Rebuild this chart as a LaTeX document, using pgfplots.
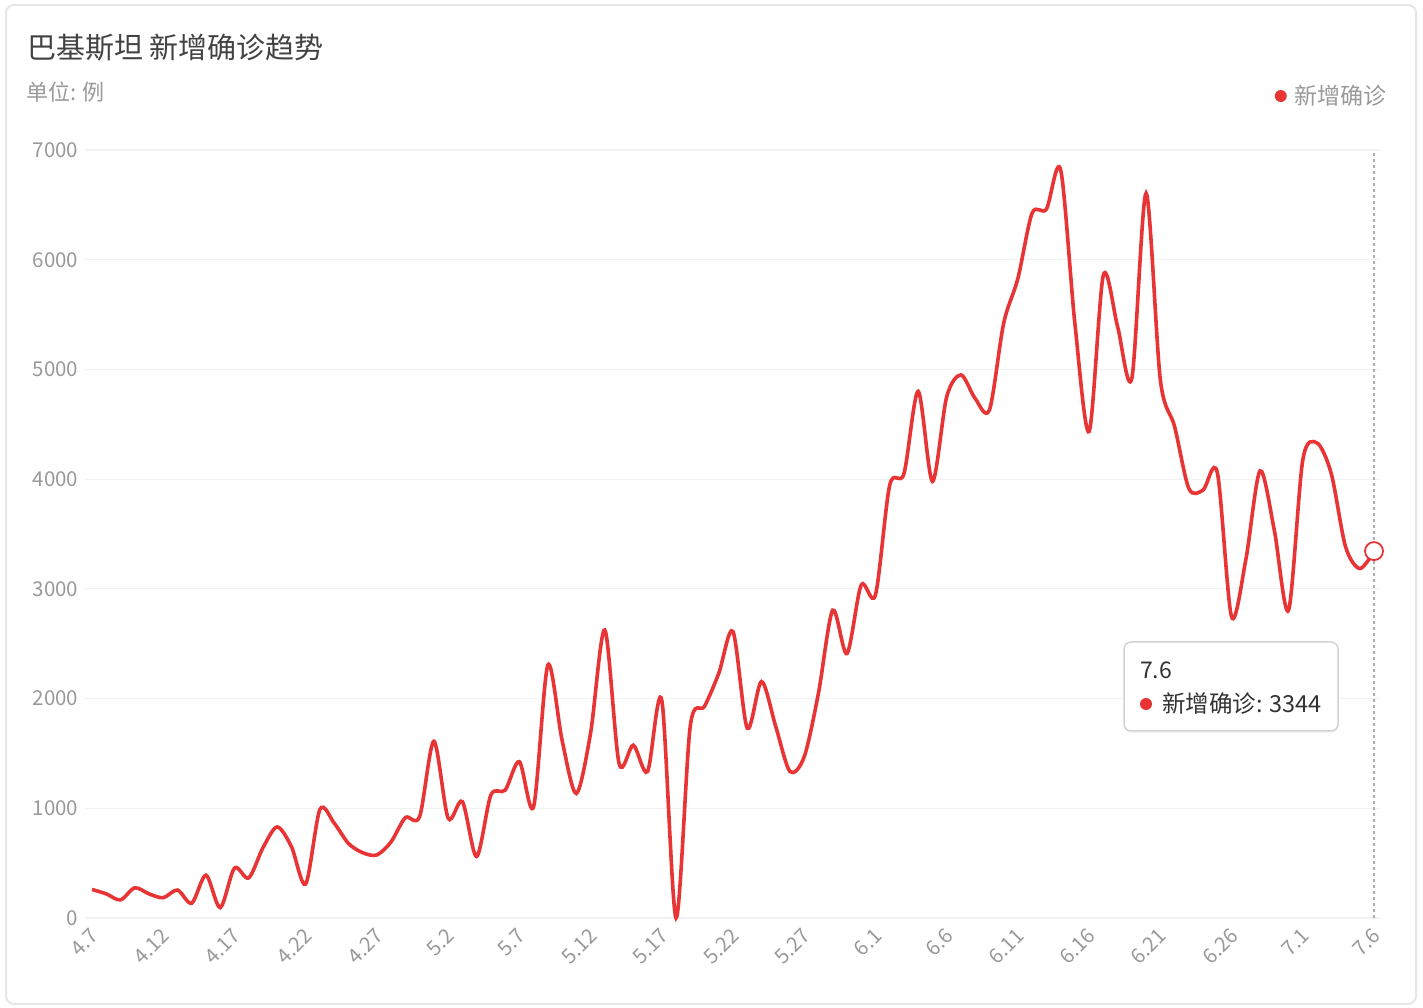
\documentclass[border=0pt]{standalone}
\usepackage{fontspec}
\setmainfont{Noto Sans CJK SC}
\usepackage{pgfplots}
\pgfplotsset{compat=1.18}
\usetikzlibrary{shadows}

\definecolor{linered}{RGB}{232,52,52}
\definecolor{tickgray}{RGB}{153,153,153}
\definecolor{gridgray}{RGB}{242,242,242}
\definecolor{titlegray}{RGB}{66,66,66}
\definecolor{cardgray}{RGB}{230,230,230}

% daily new cases, 4.7 (day 0) .. 7.6 (day 90)
\pgfplotstableread{
day cases
0 260
1 220
2 165
3 275
4 220
5 185
6 255
7 135
8 390
9 95
10 455
11 365
12 640
13 830
14 650
15 310
16 990
17 865
18 680
19 595
20 575
21 695
22 915
23 925
24 1610
25 910
26 1060
27 560
28 1120
29 1165
30 1425
31 1015
32 2305
33 1620
34 1135
35 1685
36 2625
37 1410
38 1575
39 1335
40 1985
41 0
42 1750
43 1930
44 2230
45 2610
46 1730
47 2155
48 1745
49 1335
50 1470
51 2050
52 2805
53 2410
54 3035
55 2945
56 3945
57 4050
58 4800
59 3980
60 4750
61 4950
62 4735
63 4630
64 5420
65 5830
66 6425
67 6460
68 6820
69 5420
70 4435
71 5860
72 5390
73 4920
74 6605
75 4905
76 4480
77 3915
78 3900
79 4060
80 2745
81 3265
82 4075
83 3535
84 2805
85 4175
86 4330
87 4050
88 3385
89 3185
90 3344
}\cases

\begin{document}
\begin{tikzpicture}
\path[use as bounding box] (0,0) rectangle (1423pt,1008pt);
\draw[cardgray, line width=2pt, rounded corners=8pt] (6pt,4pt) rectangle (1416pt,1003pt);

\begin{axis}[
    at={(84.9pt,90pt)}, anchor=south west,
    scale only axis,
    width=1294.8pt, height=768pt,
    xmin=-0.5, xmax=90.4,
    ymin=0, ymax=7000,
    clip=false,
    axis line style={draw=none},
    major tick length=0pt,
    ymajorgrids,
    grid style={gridgray, line width=1.2pt},
    ytick={0,1000,...,7000},
    scaled y ticks=false,
    xtick={0,5,...,90},
    xticklabels={4.7,4.12,4.17,4.22,4.27,5.2,5.7,5.12,5.17,5.22,5.27,6.1,6.6,6.11,6.16,6.21,6.26,7.1,7.6},
    /pgf/number format/assume math mode=true,
    /pgf/number format/1000 sep={},
    ticklabel style={font=\fontsize{20.5}{21}\selectfont, text=tickgray},
    yticklabel style={xshift=-3pt},
    xticklabel style={rotate=45, anchor=east, yshift=-12pt, xshift=-5pt},
    legend style={at={(axis description cs:1.0056,1.0703)}, anchor=east,
        draw=none, fill=none, inner sep=0pt,
        font=\fontsize{23}{24}\selectfont, text=tickgray,
        nodes={inner sep=0pt}},
    legend image code/.code={\path[draw=none, fill=none] (-6pt,0) -- (14pt,0); \fill[linered, draw=none] (0pt,0) circle (6pt);},
]
\draw[tickgray!80, line width=1.5pt, dash pattern=on 3pt off 3pt] (axis cs:90,0) -- (axis cs:90,7000);
\addplot[linered, line width=3.6pt, smooth, tension=0.5] table[x=day, y=cases] {\cases};
\addlegendentry{新增确诊}
\addplot[only marks, mark=*, mark size=9pt, mark options={draw=linered, fill=white, line width=1.8pt}, forget plot] coordinates {(90,3344)};
\end{axis}

% title
\node[anchor=west, inner sep=0pt, text=titlegray, font=\fontsize{29}{31}\selectfont] at (27pt,960pt) {巴基斯坦 新增确诊趋势};
\node[anchor=west, inner sep=0pt, text=tickgray, font=\fontsize{22}{24}\selectfont] at (26pt,916pt) {单位: 例};

% tooltip
\draw[cardgray!80!gray, line width=1.5pt, rounded corners=7pt, fill=white,
      drop shadow={opacity=0.08, shadow xshift=0pt, shadow yshift=-2pt}]
      (1124pt,277pt) rectangle (1338pt,366pt);
\node[anchor=west, inner sep=0pt, text=black!80, font=\fontsize{23}{24}\selectfont] at (1140pt,338pt) {7.6};
\fill[linered] (1146pt,304pt) circle (6pt);
\node[anchor=west, inner sep=0pt, text=black!80, font=\fontsize{23.5}{24}\selectfont] at (1162pt,304pt) {新增确诊: 3344};
\end{tikzpicture}
\end{document}
